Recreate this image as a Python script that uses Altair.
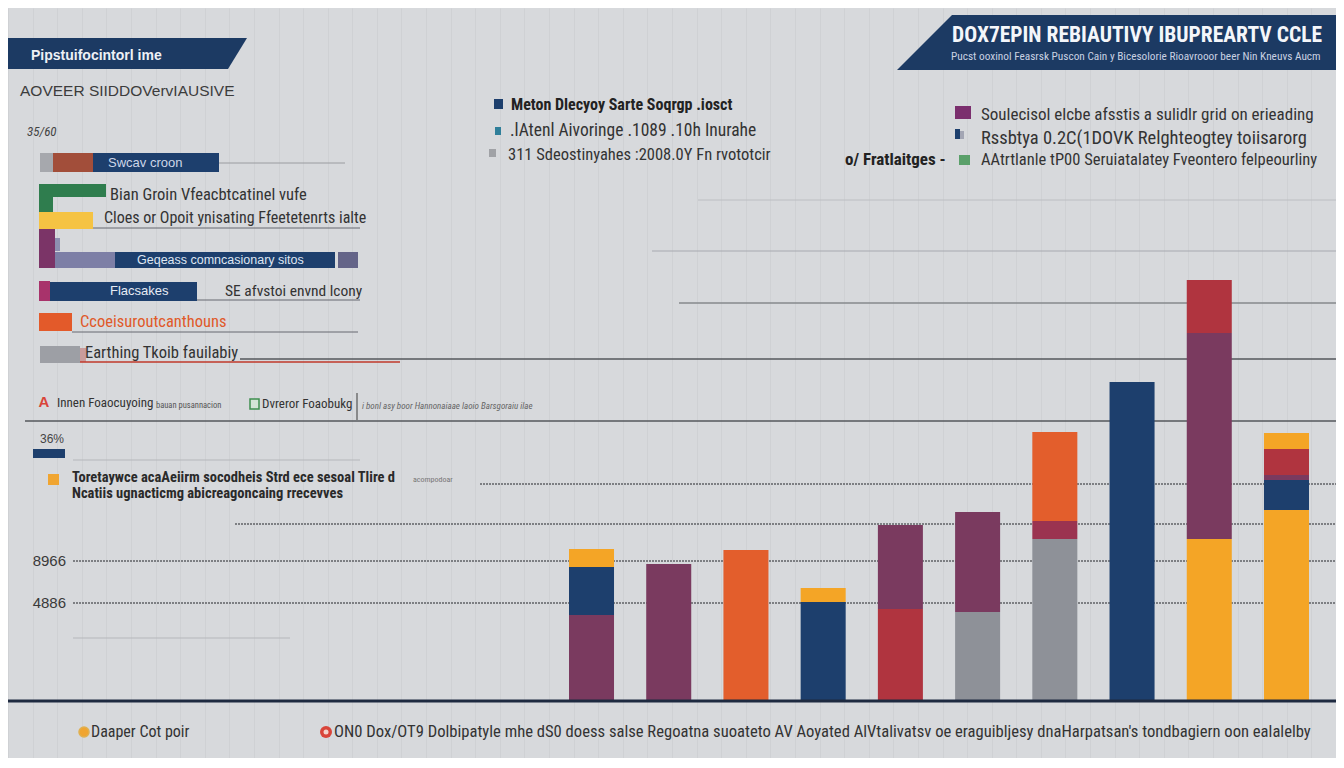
import altair as alt
import pandas as pd

# ---------------- data ----------------
categories = ["G1", "G2", "G3", "G4", "G5", "G6", "G7", "G8", "G9", "G10"]

# stacked segments, listed bottom -> top inside each bar
seg_category = ["G1", "G1", "G1", "G2", "G3", "G4", "G4", "G5", "G5", "G6", "G6",
                "G7", "G7", "G7", "G8", "G9", "G9", "G9", "G10", "G10", "G10", "G10", "G10"]
seg_series = ["Plum", "Navy", "Amber", "Plum", "Orange", "Navy", "Amber", "Crimson", "Plum",
              "Grey", "Plum", "Grey", "Maroon", "Orange", "Navy", "Amber", "Plum", "Crimson",
              "Amber", "Navy", "Plum", "Crimson", "Amber"]
seg_value = [4250, 2400, 900, 6800, 7500, 4900, 700, 4550, 4200, 4400, 5000,
             8050, 900, 4450, 15900, 8050, 10300, 2650, 9500, 1500, 250, 1300, 800]

series_names = ["Plum", "Navy", "Amber", "Orange", "Crimson", "Grey", "Maroon"]
series_colors = ["#7a3a5f", "#1d3f6d", "#f4a526", "#e35e2c", "#b0343f", "#8e9198", "#9b3350"]

grid_levels = [25000, 22450, 19850, 17050, 13950, 12000, 10800, 8800, 6950, 4850, 3100]

y_tick_levels = [6950, 4850]
y_tick_labels = ["8966", "4886"]

# ---------------- layout helpers ----------------
OX, OY = 8, 8
NARROW = "Liberation Sans Narrow, Arial Narrow, Roboto Condensed, Liberation Sans, sans-serif"
REG = "Liberation Sans, Arial, sans-serif"
BG = "#d7d9dc"
NAVY = "#1d3f6d"

one = pd.DataFrame({"gx": [0]})

yscale = alt.Scale(domain=[0, 21000], range=[692, 272], nice=False, zero=True)
xscale = alt.Scale(domain=categories, range=[561, 1301], paddingInner=0.417, paddingOuter=0)


def T(s, x, y, size, color="#333333", weight="normal", font=NARROW, align="left", style="normal"):
    return alt.Chart(one).mark_text(
        text=s, align=align, baseline="middle", fontSize=size, fontWeight=weight,
        font=font, color=color, fontStyle=style
    ).encode(x=alt.value(x - OX), y=alt.value(y - OY))


def R(x1, y1, x2, y2, color, stroke=None, sw=1):
    kw = dict(color=color, opacity=1)
    if stroke:
        kw.update(stroke=stroke, strokeWidth=sw)
    return alt.Chart(one).mark_rect(**kw).encode(
        x=alt.value(x1 - OX), x2=alt.value(x2 - OX),
        y=alt.value(y1 - OY), y2=alt.value(y2 - OY))


def HL(x1, x2, y, color, w=1.0, dash=None):
    kw = dict(color=color, strokeWidth=w)
    if dash:
        kw["strokeDash"] = dash
    return alt.Chart(one).mark_rule(**kw).encode(
        x=alt.value(x1 - OX), x2=alt.value(x2 - OX), y=alt.value(y - OY))


def VL(x, y1, y2, color, w=1.0):
    return alt.Chart(one).mark_rule(color=color, strokeWidth=w).encode(
        x=alt.value(x - OX), y=alt.value(y1 - OY), y2=alt.value(y2 - OY))


def P(pts, color):
    path = "M" + " L".join(f"{max(px - OX, 0)},{py - OY}" for px, py in pts) + " Z"
    return alt.Chart(one).mark_point(
        shape=path, size=4, filled=True, color=color, opacity=1, strokeWidth=0
    ).encode(x=alt.value(0), y=alt.value(0))


def C(x, y, d, color, stroke=None):
    kw = dict(shape="circle", size=d * d, filled=True, color=color, opacity=1)
    if stroke:
        kw.update(stroke=stroke, strokeWidth=1.5)
    return alt.Chart(one).mark_point(**kw).encode(x=alt.value(x - OX), y=alt.value(y - OY))


# ---------------- chart layers ----------------
layers = []

# faint vertical grid from an axis of its own
layers.append(
    alt.Chart(one).mark_point(opacity=0).encode(
        x=alt.X("gx:Q", scale=alt.Scale(domain=[0, 54], range=[0, 1328], nice=False),
                axis=alt.Axis(grid=True, labels=False, ticks=False, domain=False, title=None,
                              tickCount=54, gridColor="#c3c5c9", gridWidth=1, gridOpacity=0.4))
    )
)

# horizontal reference lines (values in data units)
grid_style = [  # start, end, color, width, dash
    (698, 1344, "#bcbec2", 1.0, None),
    (652, 1344, "#a8aaaf", 1.2, None),
    (679, 1344, "#86888d", 1.3, None),
    (240, 1344, "#55575c", 1.6, None),
    (25, 1344, "#55575c", 1.6, None),
    (73, 360, "#b5b7bb", 1.0, None),
    (480, 1344, "#606266", 1.6, [2, 1]),
    (235, 1344, "#606266", 1.6, [2, 1]),
    (73, 1344, "#606266", 1.6, [2, 1]),
    (73, 1344, "#606266", 1.6, [2, 1]),
    (73, 290, "#b5b7bb", 1.0, None),
]
for lvl, (x1, x2, col, w, dash) in zip(grid_levels, grid_style):
    kw = dict(color=col, strokeWidth=w)
    if dash:
        kw["strokeDash"] = dash
    layers.append(
        alt.Chart(pd.DataFrame({"level": [lvl]})).mark_rule(**kw).encode(
            x=alt.value(x1 - OX), x2=alt.value(x2 - OX),
            y=alt.Y("level:Q", scale=yscale, axis=None))
    )

# y labels
layers.append(
    alt.Chart(pd.DataFrame({"level": y_tick_levels, "label": y_tick_labels})).mark_text(
        align="right", baseline="middle", fontSize=15, font=REG, color="#3a3a3a"
    ).encode(x=alt.value(66 - OX), y=alt.Y("level:Q", scale=yscale, axis=None), text="label:N")
)

# stacked bars
seg_df = pd.DataFrame({"category": seg_category, "series": seg_series, "value": seg_value})
seg_df["stack_order"] = seg_df.groupby("category").cumcount()
layers.append(
    alt.Chart(seg_df).mark_bar(opacity=1).encode(
        x=alt.X("category:N", sort=categories, scale=xscale, axis=None),
        y=alt.Y("value:Q", stack="zero", scale=yscale, axis=None),
        color=alt.Color("series:N", scale=alt.Scale(domain=series_names, range=series_colors), legend=None),
        order=alt.Order("stack_order:Q", sort="ascending"),
    )
)

# baseline
layers.append(HL(0, 1344, 701, "#1e2a40", 3))

# ---- top-left banner & heading ----
layers.append(P([(0, 38), (247, 38), (228, 69), (0, 69)], "#1c3a63"))
layers.append(T("Pipstuifocintorl ime", 31, 56, 14, "#eef1f6", weight="bold", font=REG))
layers.append(T("AOVEER SIIDDOVervIAUSIVE", 20, 91, 15.5, "#3c3c3c", font=REG))
layers.append(T("35/60", 27, 132, 13, "#444444", style="italic"))

# ---- left panel rows ----
layers.append(R(40, 153, 53, 172, "#a6a8ad"))
layers.append(R(53, 153, 93, 172, "#a24e3a"))
layers.append(R(93, 153, 219, 172, NAVY))
layers.append(T("Swcav croon", 108, 163, 13, "#cdd6e8", font=REG))
layers.append(HL(219, 345, 163, "#9a9ca0", 1))

layers.append(R(39, 184, 106, 197, "#2f7d4e"))
layers.append(R(39, 197, 53, 212, "#2f7d4e"))
layers.append(T("Bian Groin Vfeacbtcatinel vufe", 110, 195, 16.5))
layers.append(R(39, 212, 93, 229, "#f5c343"))
layers.append(T("Cloes or Opoit ynisating Ffeetetenrts ialte", 104, 218, 16))
layers.append(HL(93, 360, 228, "#666870", 1))

layers.append(R(39, 229, 55, 268, "#7b3467"))
layers.append(R(55, 238, 60, 251, "#8d8fb0"))
layers.append(R(55, 252, 115, 268, "#7d7fa6"))
layers.append(R(115, 252, 335, 268, NAVY))
layers.append(T("Geqeass comncasionary sitos", 137, 260, 12.5, "#dfe6f2", font=REG))
layers.append(R(338, 252, 358, 268, "#646488"))

layers.append(R(39, 281, 50, 301, "#a8336b"))
layers.append(R(50, 282, 197, 301, NAVY))
layers.append(T("Flacsakes", 110, 291, 13, "#e6ebf4", font=REG))
layers.append(HL(197, 360, 300, "#666870", 1))
layers.append(T("SE afvstoi envnd lcony", 225, 291, 15.5))

layers.append(R(39, 313, 72, 331, "#e35a2a"))
layers.append(T("Ccoeisuroutcanthouns", 80, 322, 16.5, "#e05a2a"))
layers.append(HL(72, 358, 332, "#666870", 1))

layers.append(R(40, 346, 80, 363, "#9d9fa5"))
layers.append(R(80, 348, 86, 362, "#c99c9c"))
layers.append(T("Earthing Tkoib fauilabiy", 85, 353, 16.5))
layers.append(HL(80, 400, 362, "#c0392b", 1.5))

# ---- small legend row ----
layers.append(T("A", 44, 402, 15, "#d9453a", weight="bold", align="center", font=REG))
layers.append(T("Innen Foaocuyoing", 57, 403, 13))
layers.append(T("bauan pusannacion", 156, 405, 8.5, "#555555"))
layers.append(R(250, 399, 259, 409, "#d4e4d6", stroke="#3f8f4f", sw=1.5))
layers.append(T("Dvreror Foaobukg", 262, 404, 13))
layers.append(VL(357, 393, 420, "#555555", 1.2))
layers.append(T("i bonl asy boor Hannonaiaae laoio Barsgoraiu ilae", 362, 406, 9, "#666666", style="italic"))

# ---- 36% marker and note ----
layers.append(T("36%", 40, 439, 12, "#444444", font=REG))
layers.append(R(33, 449, 65, 458, NAVY))
layers.append(R(48, 474, 59, 485, "#f0a531"))
layers.append(T("Toretaywce acaAeiirm socodheis Strd ece sesoal Tlire d", 72, 478, 14.5, "#2a2a2a", weight="bold"))
layers.append(T("acompodoar", 413, 480, 8, "#777777"))
layers.append(T("Ncatiis ugnacticmg abicreagoncaing rrecevves", 72, 494, 14.5, "#2a2a2a", weight="bold"))

# ---- top-middle legend ----
layers.append(R(494, 99, 503, 109, NAVY))
layers.append(T("Meton Dlecyoy Sarte Soqrgp .iosct", 511, 105, 16, "#222222", weight="bold"))
layers.append(R(495, 127, 501, 135, "#2f7f9a"))
layers.append(T(".lAtenl Aivoringe .1089 .10h Inurahe", 510, 131, 17.5))
layers.append(R(489, 149, 496, 157, "#a0a2a6"))
layers.append(T("311 Sdeostinyahes :2008.0Y Fn rvototcir", 508, 155, 16.5))

# ---- top-right banner ----
layers.append(P([(952, 15), (1344, 15), (1344, 70), (897, 70)], "#1c3a63"))
layers.append(T("DOX7EPIN REBIAUTIVY IBUPREARTV CCLE", 952, 36, 21.5, "#f4f6fa", weight="bold"))
layers.append(T("Pucst ooxinol Feasrsk Puscon Cain y Bicesolorie Rioavrooor beer Nin Kneuvs Aucm",
                951, 57, 11.3, "#c9d1e2"))

# ---- top-right legend ----
layers.append(R(955, 106, 971, 119, "#7b2f6e"))
layers.append(T("Soulecisol elcbe afsstis a sulidlr grid on erieading", 981, 115, 17))
layers.append(R(955, 129, 960, 139, NAVY))
layers.append(R(960, 131, 964, 139, "#a3a6b4"))
layers.append(T("Rssbtya 0.2C(1DOVK Relghteogtey toiisarorg", 981, 138, 18.5))
layers.append(T("o/ Fratlaitges -", 845, 160, 17, "#222222", weight="bold"))
layers.append(R(959, 155, 970, 165, "#5aa06a"))
layers.append(T("AAtrtlanle tP00 Seruiatalatey Fveontero felpeourliny", 981, 160, 16.5))

# ---- footer ----
layers.append(C(84, 732, 10, "#f0a531", stroke="#e0b050"))
layers.append(T("Daaper Cot poir", 91, 732, 16, "#333333"))
layers.append(C(326, 732, 12, "#d9453a"))
layers.append(C(326, 732, 5, "#f3d3cb"))
layers.append(T("ON0 Dox/OT9 Dolbipatyle mhe dS0 doess salse Regoatna suoateto AV Aoyated "
                "AlVtalivatsv oe eraguibljesy dnaHarpatsan's tondbagiern oon ealalelby",
                334, 732, 16.6, "#333333"))

chart = alt.layer(*layers).resolve_scale(x="independent").properties(
    width=1328, height=750, padding=0, background=BG,
    autosize=alt.AutoSizeParams(type="none"),
).configure_view(strokeWidth=0)

chart.save("out.html", embed_options={"renderer": "svg", "actions": False})
